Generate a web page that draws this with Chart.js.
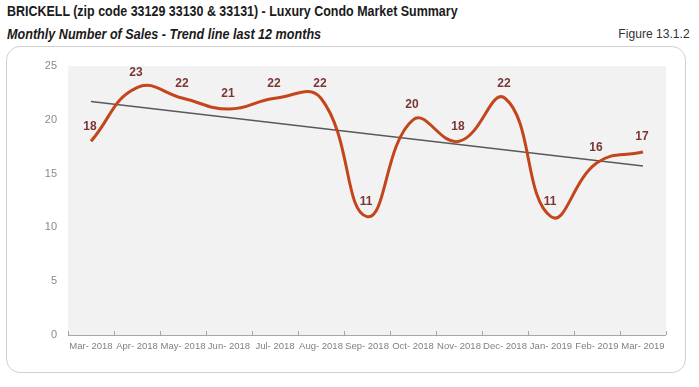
<!DOCTYPE html>
<html>
<head>
<meta charset="utf-8">
<script src="https://cdn.jsdelivr.net/npm/chart.js@4.4.1/dist/chart.umd.min.js"></script>
<style>
  html, body { margin: 0; padding: 0; background: #ffffff; }
  body { width: 699px; height: 387px; position: relative; overflow: hidden; font-family: "Liberation Sans", Arial, sans-serif; }
  #title { position: absolute; left: 7px; top: 3px; font-size: 14px; font-weight: bold; color: #1a1a1a; white-space: nowrap; transform: scaleX(0.89); transform-origin: left center; }
  #subtitle { position: absolute; left: 7px; top: 26px; font-size: 14px; font-weight: bold; font-style: italic; color: #1a1a1a; white-space: nowrap; transform: scaleX(0.9); transform-origin: left center; }
  #fig { position: absolute; right: 9px; top: 26px; font-size: 13px; color: #333333; white-space: nowrap; transform: scaleX(0.93); transform-origin: right center; }
  #box { position: absolute; left: 6px; top: 46px; width: 680px; height: 327px; border: 1px solid #d0d0d0; border-radius: 14px; box-sizing: border-box; }
  #wrap { position: absolute; left: 0; top: 0; width: 699px; height: 387px; }
</style>
</head>
<body>
<div id="title">BRICKELL (zip code 33129 33130 &amp; 33131) - Luxury Condo Market Summary</div>
<div id="subtitle">Monthly Number of Sales - Trend line last 12 months</div>
<div id="fig">Figure 13.1.2</div>
<div id="box"></div>
<div id="wrap"><canvas id="c" width="699" height="387"></canvas></div>
<script>
const categories = ["Mar- 2018","Apr- 2018","May- 2018","Jun- 2018","Jul- 2018","Aug- 2018","Sep- 2018","Oct- 2018","Nov- 2018","Dec- 2018","Jan- 2019","Feb- 2019","Mar- 2019"];
const sales = [18, 23, 22, 21, 22, 22, 11, 20, 18, 22, 11, 16, 17];
const trend = [21.7, null, null, null, null, null, null, null, null, null, null, null, 15.7];
const yTicks = [0, 5, 10, 15, 20, 25];

const bgPlugin = {
  id: 'plotBg',
  beforeDraw(chart) {
    const { ctx, chartArea: a } = chart;
    ctx.save();
    ctx.fillStyle = '#f2f2f2';
    ctx.fillRect(a.left, a.top, a.right - a.left, a.bottom - a.top);
    ctx.restore();
  }
};

const axisPlugin = {
  id: 'axisTicks',
  afterDatasetsDraw(chart) {
    const { ctx, chartArea: a, scales: { x } } = chart;
    ctx.save();
    ctx.strokeStyle = '#a6a6a6';
    ctx.lineWidth = 1;
    ctx.beginPath();
    ctx.moveTo(a.left, a.bottom + 0.5);
    ctx.lineTo(a.right, a.bottom + 0.5);
    const n = categories.length;
    const step = (a.right - a.left) / n;
    for (let i = 0; i <= n; i++) {
      const px = Math.round(x.getPixelForValue(0) - step / 2 + i * step) + 0.5;
      ctx.moveTo(px, a.bottom);
      ctx.lineTo(px, a.bottom - 4);
    }
    ctx.stroke();
    ctx.restore();
  }
};

const labelPlugin = {
  id: 'valLabels',
  afterDatasetsDraw(chart) {
    const { ctx } = chart;
    const meta = chart.getDatasetMeta(1);
    ctx.save();
    ctx.font = 'bold 12px "Liberation Sans", Arial, sans-serif';
    ctx.fillStyle = '#7b3535';
    ctx.textAlign = 'center';
    ctx.textBaseline = 'bottom';
    meta.data.forEach((pt, i) => {
      ctx.fillText(String(sales[i]), pt.x - 1, pt.y - 9);
    });
    ctx.restore();
  }
};

new Chart(document.getElementById('c'), {
  type: 'line',
  data: {
    labels: categories,
    datasets: [
      {
        label: 'Trend',
        data: trend,
        spanGaps: true,
        borderColor: '#595959',
        borderWidth: 1.5,
        pointRadius: 0,
        tension: 0,
        order: 1
      },
      {
        label: 'Sales',
        data: sales,
        borderColor: '#c4451c',
        borderWidth: 3,
        pointRadius: 0,
        tension: 0.45,
        order: 0
      }
    ]
  },
  options: {
    responsive: false,
    animation: false,
    events: [],
    layout: { padding: { left: 20, right: 33, top: 66, bottom: 22 } },
    plugins: { legend: { display: false }, tooltip: { enabled: false }, title: { display: false } },
    scales: {
      x: {
        offset: true,
        grid: { display: false, drawTicks: false },
        border: { display: false },
        ticks: {
          color: '#808080',
          font: { family: '"Liberation Sans", Arial, sans-serif', size: 9.5 },
          maxRotation: 0, minRotation: 0, autoSkip: false, padding: 6
        },
        afterFit(s) { s.height = 30; }
      },
      y: {
        min: 0, max: 25,
        afterBuildTicks(s) { s.ticks = yTicks.map(v => ({ value: v })); },
        grid: { display: false, drawTicks: false },
        border: { display: false },
        ticks: {
          color: '#8a8a8a',
          font: { family: '"Liberation Sans", Arial, sans-serif', size: 11 },
          padding: 11
        },
        afterFit(s) { s.width = 48; }
      }
    }
  },
  plugins: [bgPlugin, axisPlugin, labelPlugin]
});
</script>
</body>
</html>
